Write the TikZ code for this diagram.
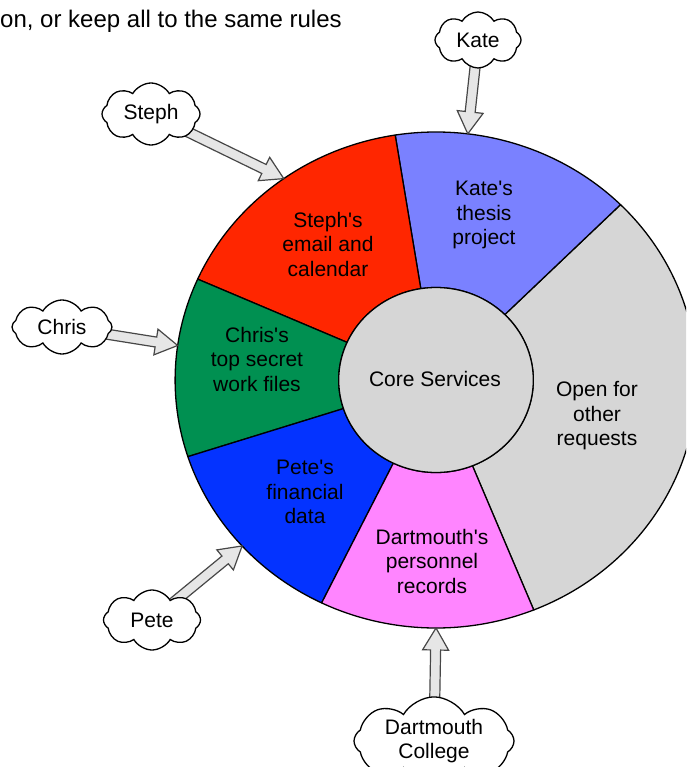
\documentclass[tikz,border=0pt]{standalone}
\usepackage{fontspec}
\setmainfont{Liberation Sans}
\usetikzlibrary{calc,shapes.symbols}

% crayon palette
\definecolor{maraschino}{HTML}{FF2600}
\definecolor{orchid}{HTML}{7A81FF}
\definecolor{silver}{HTML}{D6D6D6}
\definecolor{moss}{HTML}{009051}
\definecolor{blueberry}{HTML}{0433FF}
\definecolor{bubblegum}{HTML}{FF85FF}
\definecolor{arrowfill}{HTML}{E6E6E6}
\definecolor{arrowline}{HTML}{474747}

\newcommand\apos{\textquotesingle}

\tikzset{
  every node/.style={font=\fontsize{21}{24.5}\selectfont, align=center, inner sep=0pt},
  sector/.style={draw=black, line width=1.3pt, line join=round},
  person/.style={cloud, cloud ignores aspect, draw=black, fill=white, line width=1.3pt,
    cloud puffs=8, cloud puff arc=120},
  blockarrow/.style={draw=arrowline, fill=arrowfill, line width=1.2pt, line join=miter},
}

% hollow block arrow from a node (centre) to a named coordinate
\newcommand\hollowarrow[2]{%
  \path[blockarrow] ($(#1)!5pt!90:(#2)$)
    -- ($(#2)!22pt!(#1)!5pt!90:(#2)$)
    -- ($(#2)!22pt!(#1)!13pt!90:(#2)$)
    -- (#2)
    -- ($(#2)!22pt!(#1)!13pt!-90:(#2)$)
    -- ($(#2)!22pt!(#1)!5pt!-90:(#2)$)
    -- ($(#1)!5pt!-90:(#2)$) -- cycle;}

\begin{document}
\begin{tikzpicture}[x=1pt,y=1pt]
\useasboundingbox (0,0) rectangle (686,-767);
\clip (0,0) rectangle (686,-767);

% caption line
\node[anchor=base west, font=\fontsize{24}{28}\selectfont] (caption) at (0,-28) {on, or keep all to the same rules};

% service ring
\begin{scope}[shift={(436,-380)}, xscale=1.052]
  \draw[sector, fill=silver]     (-68:248) arc[start angle=-68, end angle=45,  radius=248] -- (45:92.5)  arc[start angle=45,  end angle=-68, radius=92.5] -- cycle;
  \draw[sector, fill=orchid]     (45:248)  arc[start angle=45,  end angle=99,  radius=248] -- (99:92.5)  arc[start angle=99,  end angle=45,  radius=92.5] -- cycle;
  \draw[sector, fill=maraschino] (99:248)  arc[start angle=99,  end angle=156, radius=248] -- (156:92.5) arc[start angle=156, end angle=99,  radius=92.5] -- cycle;
  \draw[sector, fill=moss]       (156:248) arc[start angle=156, end angle=198, radius=248] -- (198:92.5) arc[start angle=198, end angle=156, radius=92.5] -- cycle;
  \draw[sector, fill=blueberry]  (198:248) arc[start angle=198, end angle=244, radius=248] -- (244:92.5) arc[start angle=244, end angle=198, radius=92.5] -- cycle;
  \draw[sector, fill=bubblegum]  (244:248) arc[start angle=244, end angle=292, radius=248] -- (292:92.5) arc[start angle=292, end angle=244, radius=92.5] -- cycle;
  \draw[sector, fill=silver] (0,0) circle[radius=92.5];
  % where the requests arrive on the rim
  \coordinate (tipKate)  at (83:248);
  \coordinate (tipSteph) at (125.7:248);
  \coordinate (tipChris) at (172:248);
  \coordinate (tipPete)  at (222:248);
  \coordinate (tipDart)  at (270:248);
\end{scope}

% ring labels
\node (core)  at (435,-379) {Core Services};
\node (kates) at (484,-215) {Kate\apos s\\thesis\\project};
\node (stephs) at (328,-244) {Steph\apos s\\email and\\calendar};
\node (chriss) at (257,-359) {Chris\apos s\\top secret\\work files};
\node (petes) at (305,-492) {Pete\apos s\\financial\\data};
\node (darts) at (432,-561) {Dartmouth\apos s\\personnel\\records};
\node (open)  at (597,-416) {Open for\\other\\requests};

% clouds, invisible first so the arrows can start at their centres
\path node[person, minimum width=86pt, minimum height=56pt, opacity=0] (kate) at (478,-40) {Kate}
      node[person, minimum width=98pt, minimum height=62pt, opacity=0] (steph) at (151,-114) {Steph}
      node[person, minimum width=100pt, minimum height=54pt, opacity=0] (chris) at (62,-327) {Chris}
      node[person, minimum width=97pt, minimum height=60pt, opacity=0] (pete) at (152,-620) {Pete}
      node[person, minimum width=160pt, minimum height=68pt, opacity=0] (dartmouth) at (434,-741) {Dartmouth\\College};

% requests
\hollowarrow{kate}{tipKate}
\hollowarrow{steph}{tipSteph}
\hollowarrow{chris}{tipChris}
\hollowarrow{pete}{tipPete}
\hollowarrow{dartmouth}{tipDart}

% clouds drawn over the arrow tails
\node[person, minimum width=86pt, minimum height=56pt] at (kate) {Kate};
\node[person, minimum width=98pt, minimum height=62pt] at (steph) {Steph};
\node[person, minimum width=100pt, minimum height=54pt] at (chris) {Chris};
\node[person, minimum width=97pt, minimum height=60pt] at (pete) {Pete};
\node[person, minimum width=160pt, minimum height=68pt] at (dartmouth) {Dartmouth\\College};
\end{tikzpicture}
\end{document}
